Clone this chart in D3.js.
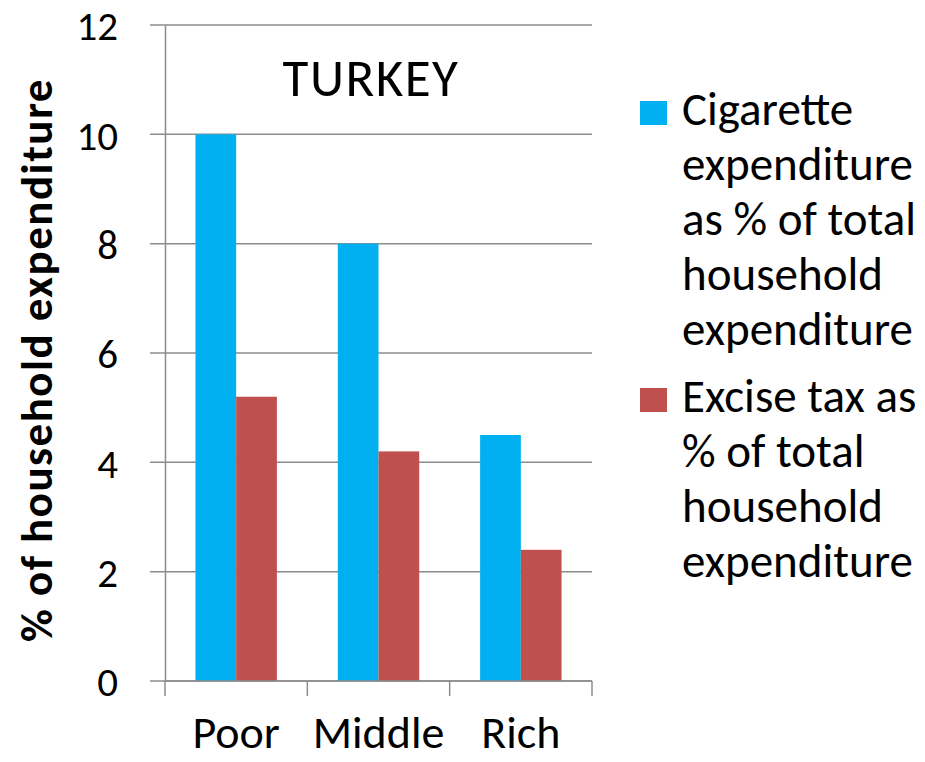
<!DOCTYPE html>
<html>
<head>
<meta charset="utf-8">
<script src="https://cdn.jsdelivr.net/npm/d3@7"></script>
<style>
  body { margin: 0; background: #fff; }
  svg { display: block; font-family: Carlito, Lato, sans-serif; }
</style>
</head>
<body>
<div id="chart"></div>
<script>
const categories = ['Poor', 'Middle', 'Rich'];
const seriesNames = ['cigarette', 'excise'];
const cigaretteShare = [10, 8, 4.5];
const exciseShare = [5.2, 4.2, 2.4];
const yTicks = [0, 2, 4, 6, 8, 10, 12];
const legendLabels = [
  ['Cigarette', 'expenditure', 'as % of total', 'household', 'expenditure'],
  ['Excise tax as', '% of total', 'household', 'expenditure']
];
const colors = ['#00B0F0', '#C0504D'];

const width = 925, height = 762;
const plot = { left: 165, right: 592, top: 25, bottom: 681 };

const svg = d3.select('#chart')
  .append('svg')
  .attr('width', width)
  .attr('height', height);

const x = d3.scaleBand()
  .domain(categories)
  .range([plot.left, plot.right])
  .padding(0);

const x1 = d3.scaleBand()
  .domain(seriesNames)
  .range([x.bandwidth() * 0.214, x.bandwidth() * 0.786])
  .padding(0);

const y = d3.scaleLinear()
  .domain([0, 12])
  .range([plot.bottom, plot.top]);

// gridlines
svg.append('g')
  .selectAll('line')
  .data(yTicks)
  .enter()
  .append('line')
  .attr('x1', plot.left - 15)
  .attr('x2', plot.right)
  .attr('y1', (d) => y(d))
  .attr('y2', (d) => y(d))
  .attr('stroke', '#8c8c8c')
  .attr('stroke-width', 1.5);

// bars
const rows = categories.map((c, i) => ({ cat: c, vals: [cigaretteShare[i], exciseShare[i]] }));

svg.append('g')
  .selectAll('g')
  .data(rows)
  .enter()
  .append('g')
  .attr('transform', (d) => `translate(${x(d.cat)},0)`)
  .selectAll('rect')
  .data((d) => d.vals.map((v, j) => ({ key: seriesNames[j], v, j })))
  .enter()
  .append('rect')
  .attr('x', (d) => x1(d.key))
  .attr('y', (d) => y(d.v))
  .attr('width', x1.bandwidth())
  .attr('height', (d) => y(0) - y(d.v))
  .attr('fill', (d) => colors[d.j]);

// y axis
const yAxis = svg.append('g')
  .attr('transform', `translate(${plot.left},0)`)
  .call(d3.axisLeft(y).tickValues(yTicks).tickSize(0).tickPadding(47));
yAxis.select('.domain').attr('stroke', '#8c8c8c').attr('stroke-width', 1.5);
yAxis.selectAll('text')
  .attr('font-family', 'Carlito, Lato, sans-serif')
  .attr('font-size', 41)
  .attr('fill', '#000')
  .attr('dy', '0.36em');

// x axis
const xAxis = svg.append('g')
  .attr('transform', `translate(0,${plot.bottom})`)
  .call(d3.axisBottom(x).tickSize(0).tickPadding(0));
xAxis.select('.domain').remove();
xAxis.append('line')
  .attr('x1', plot.left).attr('x2', plot.right)
  .attr('stroke', '#8c8c8c').attr('stroke-width', 1.5);
xAxis.selectAll('.sep')
  .data(d3.range(categories.length + 1))
  .enter()
  .append('line')
  .attr('class', 'sep')
  .attr('x1', (i) => plot.left + i * x.bandwidth())
  .attr('x2', (i) => plot.left + i * x.bandwidth())
  .attr('y1', 0).attr('y2', 15)
  .attr('stroke', '#8c8c8c').attr('stroke-width', 1.5);
xAxis.selectAll('.tick text')
  .attr('font-family', 'Carlito, Lato, sans-serif')
  .attr('font-size', 46)
  .attr('fill', '#000')
  .attr('y', 67)
  .attr('dy', 0);

// title
svg.append('text')
  .attr('x', 371)
  .attr('y', 96)
  .attr('text-anchor', 'middle')
  .attr('font-size', 53)
  .attr('letter-spacing', 1.5)
  .text('TURKEY');

// y axis title
svg.append('text')
  .attr('transform', 'translate(52,360) rotate(-90)')
  .attr('text-anchor', 'middle')
  .attr('font-size', 45)
  .attr('font-weight', 'bold')
  .attr('letter-spacing', 1.5)
  .text('% of household expenditure');

// legend
const legendTop = [125, 412];
const legend = svg.append('g');
legendLabels.forEach((lines, i) => {
  legend.append('rect')
    .attr('x', 640)
    .attr('y', legendTop[i] - 24)
    .attr('width', 27)
    .attr('height', 24)
    .attr('fill', colors[i]);
  legend.append('text')
    .attr('font-size', 47)
    .selectAll('tspan')
    .data(lines)
    .enter()
    .append('tspan')
    .attr('x', 682)
    .attr('y', (d, k) => legendTop[i] + k * 55)
    .text((d) => d);
});
</script>
</body>
</html>
